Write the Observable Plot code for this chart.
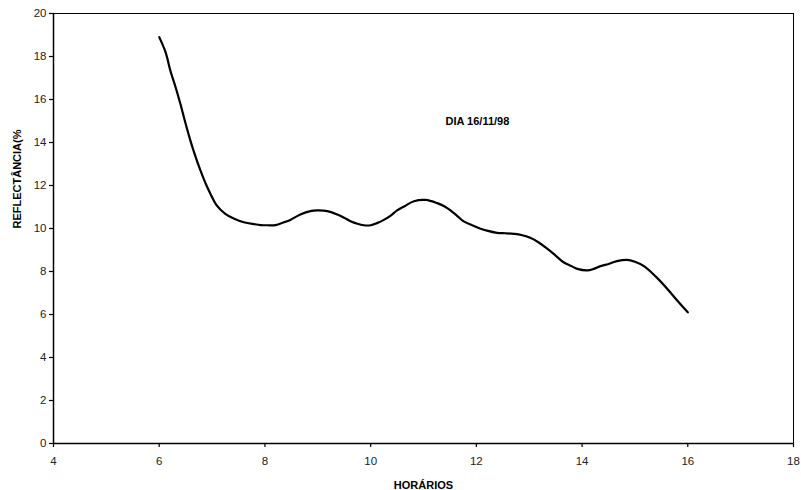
<!DOCTYPE html>
<html>
<head>
<meta charset="utf-8">
<script src="https://cdn.jsdelivr.net/npm/d3@7"></script>
<script src="https://cdn.jsdelivr.net/npm/@observablehq/plot@0.6"></script>
<style>
  body { margin: 0; background: #fff; }
  #chart svg { display: block; }
</style>
</head>
<body>
<div id="chart"></div>
<script>
const hours = [6.00, 6.12, 6.21, 6.31, 6.40, 6.50, 6.59, 6.69, 6.78, 6.88, 6.97, 7.08, 7.25, 7.42, 7.60, 7.80, 7.92, 8.05, 8.20, 8.35, 8.48, 8.67, 8.86, 8.99, 9.18, 9.37, 9.50, 9.62, 9.75, 9.87, 10.00, 10.12, 10.25, 10.38, 10.50, 10.65, 10.82, 11.04, 11.26, 11.40, 11.51, 11.64, 11.76, 11.92, 12.08, 12.20, 12.39, 12.55, 12.71, 12.85, 13.02, 13.18, 13.34, 13.50, 13.65, 13.80, 13.91, 14.10, 14.22, 14.35, 14.50, 14.66, 14.85, 15.00, 15.17, 15.40, 15.61, 15.80, 16.00];
const reflect = [18.90, 18.20, 17.35, 16.57, 15.80, 14.87, 14.09, 13.32, 12.70, 12.08, 11.61, 11.10, 10.68, 10.45, 10.29, 10.20, 10.16, 10.15, 10.16, 10.28, 10.40, 10.65, 10.81, 10.84, 10.81, 10.65, 10.50, 10.34, 10.22, 10.15, 10.15, 10.25, 10.40, 10.60, 10.84, 11.05, 11.27, 11.33, 11.18, 11.02, 10.84, 10.58, 10.33, 10.15, 9.99, 9.90, 9.80, 9.78, 9.75, 9.70, 9.57, 9.35, 9.06, 8.74, 8.43, 8.25, 8.12, 8.05, 8.12, 8.25, 8.35, 8.48, 8.54, 8.45, 8.25, 7.75, 7.20, 6.65, 6.10];
const xTicks = [4, 6, 8, 10, 12, 14, 16, 18];
const yTicks = [0, 2, 4, 6, 8, 10, 12, 14, 16, 18, 20];
const xTitle = "HORÁRIOS";
const yTitle = "REFLECTÂNCIA(%";
const note = "DIA 16/11/98";
const noteX = 12.02;
const noteY = 15.0;

const data = hours.map((h, i) => ({h, r: reflect[i]}));

const chart = Plot.plot({
  width: 801,
  height: 490,
  marginLeft: 53,
  marginRight: 8,
  marginTop: 13,
  marginBottom: 47,
  style: {fontFamily: "'Liberation Sans', Arial, sans-serif", fontSize: "11.5px", color: "#000", background: "#fff"},
  x: {domain: [4, 18], ticks: xTicks, label: null},
  y: {domain: [0, 20], ticks: yTicks, label: null},
  marks: [
    Plot.frame({stroke: "#000", strokeWidth: 1}),
    Plot.axisX({ticks: xTicks, tickSize: 4, tickPadding: 9, stroke: "#000", strokeWidth: 1.2, label: null, fill: "#222"}),
    Plot.axisY({ticks: yTicks, tickSize: 4, tickPadding: 3, stroke: "#000", strokeWidth: 1.2, label: null, fill: "#222"}),
    Plot.ruleY([0], {stroke: "#000", strokeWidth: 1.5}),
    Plot.ruleX([4], {stroke: "#000", strokeWidth: 1.5}),
    Plot.line(data, {x: "h", y: "r", stroke: "#000", strokeWidth: 2.2, curve: "catmull-rom"}),
    Plot.text([note], {x: noteX, y: noteY, text: d => d, fontWeight: "bold", fontSize: 11, fill: "#000"}),
    Plot.text([xTitle], {frameAnchor: "bottom", dy: 45, text: d => d, fontWeight: "bold", fontSize: 11, fill: "#000"}),
    Plot.text([yTitle], {frameAnchor: "left", dx: -36, rotate: -90, text: d => d, fontWeight: "bold", fontSize: 11, fill: "#000"})
  ]
});
document.getElementById("chart").appendChild(chart);
</script>
</body>
</html>
